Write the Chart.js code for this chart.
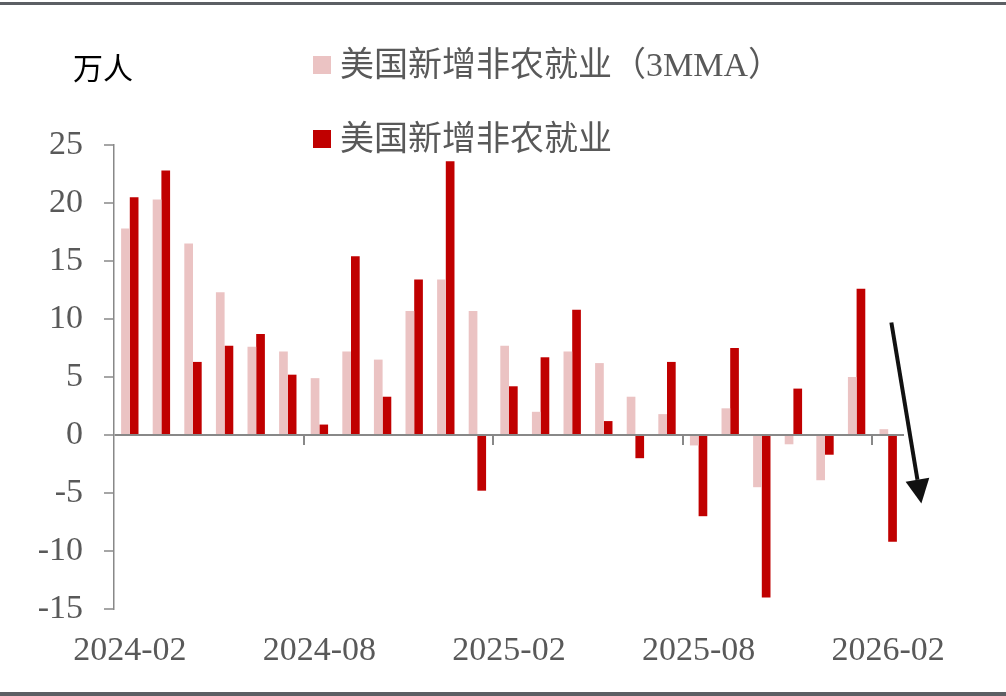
<!DOCTYPE html>
<html>
<head>
<meta charset="utf-8">
<script src="https://cdn.jsdelivr.net/npm/chart.js@4/dist/chart.umd.min.js"></script>
<style>
  body { margin: 0; background: #fff; }
  #wrap { position: relative; width: 1006px; height: 696px; overflow: hidden; }
  #chart { position: absolute; left: 0; top: 0; }
  .rule { position: absolute; left: 0; width: 1006px; background: #5c5f64; }
  #unit { position: absolute; left: 73px; top: 44px; font: 30px "Liberation Serif", "Noto Sans CJK SC", serif; color: #000; }
  .leg { position: absolute; left: 313px; font: 34px "Liberation Serif", "Noto Sans CJK SC", serif; color: #595959; white-space: nowrap; }
  .leg i { display: inline-block; width: 18px; height: 18px; margin-right: 9px; vertical-align: middle; position: relative; top: -3px; }
</style>
</head>
<body>
<div id="wrap">
  <div class="rule" style="top:2px;height:3px"></div>
  <canvas id="chart" width="1006" height="696"></canvas>
  <div id="unit">万人</div>
  <div id="legend"></div>
  <div class="rule" style="top:692px;height:4px"></div>
</div>
<script>
// 月份
const months = [
  '2024-02', '2024-03', '2024-04', '2024-05', '2024-06', '2024-07', '2024-08', '2024-09', '2024-10',
  '2024-11', '2024-12', '2025-01', '2025-02', '2025-03', '2025-04', '2025-05', '2025-06', '2025-07',
  '2025-08', '2025-09', '2025-10', '2025-11', '2025-12', '2026-01', '2026-02'
]
// 万人
const payrolls3mma = [17.8, 20.3, 16.5, 12.3, 7.6, 7.2, 4.9, 7.2, 6.5, 10.7, 13.4, 10.7,
  7.7, 2.0, 7.2, 6.2, 3.3, 1.8, -0.9, 2.3, -4.5, -0.8, -3.9, 5.0, 0.5]
const payrolls = [20.5, 22.8, 6.3, 7.7, 8.7, 5.2, 0.9, 15.4, 3.3, 13.4, 23.6, -4.8,
  4.2, 6.7, 10.8, 1.2, -2.0, 6.3, -7.0, 7.5, -14.0, 4.0, -1.7, 12.6, -9.2]
const yTicks = [25, 20, 15, 10, 5, 0, -5, -10, -15]
const labelEvery = 6

// 箭头（注释）：起止的类别位置和数值
const arrowFrom = { cat: 24.1, val: 9.7 }
const arrowTo = { cat: 25.05, val: -5.9 }

const serif = '"Liberation Serif", "Noto Sans CJK SC", serif'
const axisGray = '#888888'

const extras = {
  id: 'extras',
  afterDatasetsDraw(chart) {
    const { ctx, scales: { x, y } } = chart
    const zero = y.getPixelForValue(0)
    const step = x.getPixelForValue(1) - x.getPixelForValue(0)
    ctx.save()
    // 零轴上的刻度
    ctx.strokeStyle = axisGray
    ctx.lineWidth = 2
    for (let i = labelEvery; i < months.length; i += labelEvery) {
      const px = Math.round(x.getPixelForValue(i) - step / 2)
      ctx.beginPath()
      ctx.moveTo(px, zero)
      ctx.lineTo(px, zero + 10)
      ctx.stroke()
    }
    // 箭头
    const x0 = x.getPixelForValue(0) + arrowFrom.cat * step
    const y0 = y.getPixelForValue(arrowFrom.val)
    const x1 = x.getPixelForValue(0) + arrowTo.cat * step
    const y1 = y.getPixelForValue(arrowTo.val)
    const len = Math.hypot(x1 - x0, y1 - y0)
    const ux = (x1 - x0) / len, uy = (y1 - y0) / len
    const head = 24, half = 12
    const bx = x1 - ux * head, by = y1 - uy * head
    ctx.strokeStyle = '#111'
    ctx.fillStyle = '#111'
    ctx.lineWidth = 4
    ctx.beginPath()
    ctx.moveTo(x0, y0)
    ctx.lineTo(bx, by)
    ctx.stroke()
    ctx.beginPath()
    ctx.moveTo(x1, y1)
    ctx.lineTo(bx - uy * half, by + ux * half)
    ctx.lineTo(bx + uy * half, by - ux * half)
    ctx.closePath()
    ctx.fill()
    ctx.restore()
  }
}

const chart = new Chart(document.getElementById('chart'), {
  type: 'bar',
  data: {
    labels: months,
    datasets: [{
      label: '美国新增非农就业（3MMA）',
      backgroundColor: '#ebc3c3',
      data: payrolls3mma,
    }, {
      label: '美国新增非农就业',
      backgroundColor: '#c00000',
      data: payrolls,
    }]
  },
  options: {
    responsive: false,
    animation: false,
    devicePixelRatio: 1,
    categoryPercentage: 0.55,
    barPercentage: 1.0,
    layout: { padding: { top: 145, right: 102, bottom: 0, left: 0 } },
    plugins: {
      legend: { display: false },
      tooltip: { enabled: false },
    },
    scales: {
      x: {
        grid: { display: false, drawTicks: false },
        border: { display: false },
        ticks: {
          autoSkip: false,
          maxRotation: 0,
          padding: 22,
          color: '#595959',
          font: { family: serif, size: 34 },
          callback: (v, i) => (i % labelEvery === 0 ? months[i] : ''),
        },
        afterFit: (s) => { s.height = 87 },
      },
      y: {
        min: yTicks[yTicks.length - 1],
        max: yTicks[0],
        afterBuildTicks: (s) => { s.ticks = yTicks.map(v => ({ value: v })) },
        grid: {
          color: (c) => (c.tick && c.tick.value === 0 ? axisGray : 'rgba(0,0,0,0)'),
          lineWidth: 2,
          tickColor: axisGray,
          tickLength: 10,
          tickWidth: 1.5,
        },
        border: { display: true, color: axisGray, width: 1.5 },
        ticks: {
          padding: 21,
          color: '#595959',
          font: { family: serif, size: 34 },
        },
        afterFit: (s) => { s.width = 114 },
      }
    }
  },
  plugins: [extras]
})

// 图例
const legendTops = [37, 111]
document.getElementById('legend').innerHTML = chart.data.datasets.map((ds, i) =>
  `<div class="leg" style="top:${legendTops[i]}px"><i style="background:${ds.backgroundColor}"></i>${ds.label}</div>`
).join('')
</script>
</body>
</html>
